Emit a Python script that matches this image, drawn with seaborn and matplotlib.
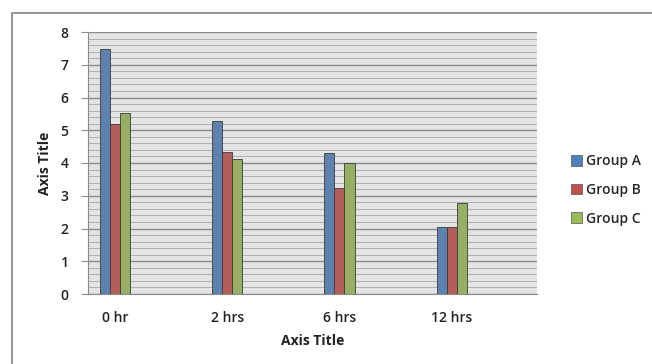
import matplotlib
matplotlib.use("Agg")
import matplotlib.pyplot as plt
import seaborn as sns
import pandas as pd
import numpy as np
from matplotlib.lines import Line2D
from matplotlib.patches import Patch

categories = ["0 hr", "2 hrs", "6 hrs", "12 hrs"]
groups = ["Group A", "Group B", "Group C"]
group_a = [7.48, 5.28, 4.31, 2.05]
group_b = [5.19, 4.35, 3.23, 2.05]
group_c = [5.53, 4.12, 3.99, 2.79]
colors = ["#4F81BD", "#C0504D", "#9BBB59"]

df = pd.DataFrame({
    "time": categories * 3,
    "group": [g for g in groups for _ in categories],
    "value": group_a + group_b + group_c,
})

sns.set_style("white")
plt.rcParams["font.family"] = ["Open Sans", "DejaVu Sans"]

fig = plt.figure(figsize=(6.52, 3.64), dpi=100)
ax = fig.add_axes([88 / 652, 1 - 294 / 364, 449 / 652, 262 / 364])
ax.set_facecolor("#E4E4E4")

sns.barplot(data=df, x="time", y="value", hue="group", order=categories,
            hue_order=groups, palette=colors, width=0.27, dodge=True,
            edgecolor="#3A3A3A", linewidth=0.6, ax=ax, legend=False,
            zorder=3)

ax.set_xlim(-0.24, 3.76)
ax.set_ylim(0, 8)
ax.set_yticks(np.arange(0, 9, 1))
ax.set_yticks(np.arange(0, 8.01, 0.2), minor=True)
ax.grid(axis="y", which="major", color="#8C8C8C", linewidth=1.0, zorder=1)
ax.grid(axis="y", which="minor", color="#AFAFAF", linewidth=0.7, zorder=1)
ax.set_axisbelow(True)

for side in ["top", "right"]:
    ax.spines[side].set_visible(False)
ax.spines["left"].set_color("#8C8C8C")
ax.spines["bottom"].set_color("#8C8C8C")
ax.tick_params(axis="y", which="major", left=True, length=5, color="#8C8C8C",
               labelsize=10, labelcolor="#222222", pad=9)
ax.tick_params(axis="y", which="minor", left=False)
ax.tick_params(axis="x", bottom=False, labelsize=10, labelcolor="#222222", pad=9)
for lab in ax.get_xticklabels() + ax.get_yticklabels():
    lab.set_fontweight("semibold")

ax.set_xlabel("Axis Title", fontsize=10, fontweight="bold", labelpad=6, color="#222222")
ax.set_ylabel("Axis Title", fontsize=10, fontweight="bold", labelpad=6, color="#222222")

handles = [Patch(facecolor=c, edgecolor="#555555", linewidth=0.5) for c in colors]
fig.legend(handles, groups, loc="center left", bbox_to_anchor=(558 / 652, 1 - 190 / 364),
           frameon=False, handlelength=0.8, handleheight=0.8,
           handletextpad=0.35, labelspacing=1.05, prop={"weight": "semibold", "size": 10})

# chart frame along the top and left edges
fig.add_artist(Line2D([12 / 652, 1], [1 - 13 / 364, 1 - 13 / 364], transform=fig.transFigure,
                      color="#9A9A9A", linewidth=1.5))
fig.add_artist(Line2D([12 / 652, 12 / 652], [0, 1 - 13 / 364], transform=fig.transFigure,
                      color="#9A9A9A", linewidth=1.5))

fig.savefig("out.png", dpi=100, facecolor="white")
